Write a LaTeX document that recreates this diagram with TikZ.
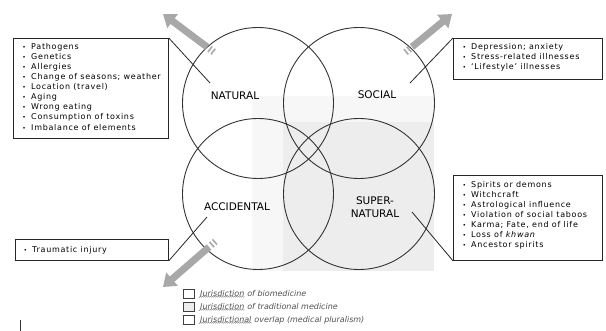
\documentclass[tikz,border=0pt]{standalone}
\usepackage{fontspec}
\setmainfont{DejaVu Sans}
\newfontfamily\listfont[LetterSpace=9]{DejaVu Sans}
\usetikzlibrary{arrows.meta,calc,decorations.pathmorphing}
\definecolor{arrowgray}{HTML}{A8A8A8}
\definecolor{linegray}{HTML}{333333}
\definecolor{legtext}{HTML}{505050}
\newcommand\lit[1]{\makebox[9pt][l]{\hspace{0.3pt}{\fontsize{6}{6}\selectfont •}}#1}
\begin{document}
\begin{tikzpicture}[x=1pt,y=-1pt,
  circ/.style={circle,draw=linegray,line width=0.9pt,minimum size=151pt,inner sep=0pt},
  lab/.style={font=\fontsize{10.5}{12.7}\selectfont,align=center,inner sep=0pt},
  listbox/.style={draw=black!85,line width=0.8pt,anchor=north west,inner sep=0pt},
  listtext/.style={font=\listfont\fontsize{8}{10.1}\selectfont,align=left,inner sep=0pt,anchor=north west},
  conn/.style={draw=black!85,line width=0.8pt},
  bigarrow/.style={draw=arrowgray,line width=7pt,-{Triangle[width=17pt,length=12pt]}},
  stub/.style={draw=arrowgray,line width=7pt},
  legbox/.style={draw=black!75,line width=0.7pt,minimum width=11pt,minimum height=9pt,inner sep=0pt},
  legtxt/.style={font=\itshape\fontsize{8}{9}\selectfont,text=legtext,inner sep=0pt},
  squig/.style={draw=legtext!70,line width=0.4pt,decorate,decoration={snake,amplitude=0.5pt,segment length=2pt}}
]
\useasboundingbox (0,0) rectangle (606,331);

% shaded jurisdiction areas
\fill[gray!6] (252,96) rectangle (434,271);
\fill[gray!14] (283,122) rectangle (434,271);

% circles
\node[circ] (natC) at (258,103) {};
\node[circ] (socC) at (359,103) {};
\node[circ] (accC) at (258,194) {};
\node[circ] (supC) at (359,194) {};

% circle labels
\node[lab] (natL) at (235,96) {NATURAL};
\node[lab] (socL) at (377,95) {SOCIAL};
\node[lab] (accL) at (237,207) {ACCIDENTAL};
\node[lab] (supL) at (375,207) {SUPER-\\NATURAL};

% list boxes
\node[listbox,minimum width=155pt,minimum height=100pt] (natB) at (13,38) {};
\node[listtext] (natT) at (22,43) {\lit{Pathogens}\\\lit{Genetics}\\\lit{Allergies}\\\lit{Change of seasons; weather}\\\lit{Location (travel)}\\\lit{Aging}\\\lit{Wrong eating}\\\lit{Consumption of toxins}\\\lit{Imbalance of elements}};

\node[listbox,minimum width=149pt,minimum height=41pt] (socB) at (453,38) {};
\node[listtext] (socT) at (462,43) {\lit{Depression; anxiety}\\\lit{Stress-related illnesses}\\\lit{‘Lifestyle’ illnesses}};

\node[listbox,minimum width=149pt,minimum height=85pt] (supB) at (453,175) {};
\node[listtext] (supT) at (462,181) {\lit{Spirits or demons}\\\lit{Witchcraft}\\\lit{Astrological influence}\\\lit{Violation of social taboos}\\\lit{Karma; Fate, end of life}\\\lit{Loss of \textit{khwan}}\\\lit{Ancestor spirits}};

\node[listbox,minimum width=153pt,minimum height=21pt] (accB) at (15,239) {};
\node[listtext] (accT) at (23,246) {\lit{Traumatic injury}};

% connectors
\coordinate (natP) at (210,83);
\coordinate (socP) at (410,83);
\coordinate (supP) at (412,212);
\coordinate (accP) at (207,217);
\draw[conn] (natB.north east) -- (natP);
\draw[conn] (socB.north west) -- (socP);
\draw[conn] (supB.south west) -- (supP);
\draw[conn] (accB.south east) -- (accP);

% gray arrows
\coordinate (a1t) at (207,47); \coordinate (a1h) at (163,14);
\coordinate (a2t) at (412,47); \coordinate (a2h) at (452,14);
\coordinate (a3t) at (209,247); \coordinate (a3h) at (163,287);
\foreach \t/\h in {a1t/a1h,a2t/a2h,a3t/a3h}{
  \draw[bigarrow] (\t) -- (\h);
  \draw[stub] ($(\t)!-3pt!(\h)$) -- ($(\t)!-4.6pt!(\h)$);
  \draw[stub] ($(\t)!-6.8pt!(\h)$) -- ($(\t)!-8.4pt!(\h)$);
}

% legend
\node[legbox] (lg1) at (188.5,293.5) {};
\node[legbox,fill=gray!14] (lg2) at (188.5,306.5) {};
\node[legbox] (lg3) at (188.5,319.5) {};
\node[legtxt,anchor=west] (j1) at (200,294) {Jurisdiction};
\node[legtxt,anchor=base west] (r1) at ([xshift=2.6pt]j1.base east) {of biomedicine};
\node[legtxt,anchor=west] (j2) at (200,307) {Jurisdiction};
\node[legtxt,anchor=base west] (r2) at ([xshift=2.6pt]j2.base east) {of traditional medicine};
\node[legtxt,anchor=west] (j3) at (200,320) {Jurisdictional};
\node[legtxt,anchor=base west] (r3) at ([xshift=2.6pt]j3.base east) {overlap (medical pluralism)};
\draw[squig] ([yshift=1.2pt]j1.south west) -- ([yshift=1.2pt]j1.south east);
\draw[squig] ([yshift=1.2pt]j2.south west) -- ([yshift=1.2pt]j2.south east);
\draw[squig] ([yshift=1.2pt]j3.south west) -- ([yshift=1.2pt]j3.south east);

% margin mark
\draw[black!80,line width=0.8pt] (20,320) -- (20,331);
\end{tikzpicture}
\end{document}
